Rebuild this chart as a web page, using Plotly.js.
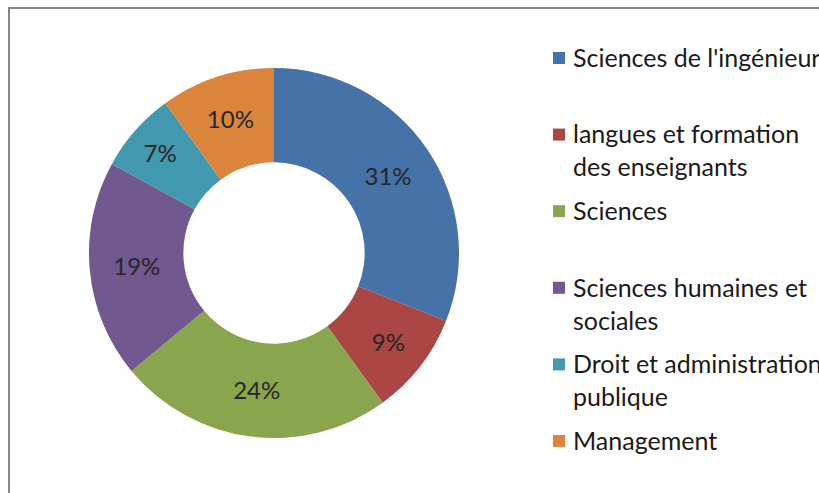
<!DOCTYPE html>
<html><head><meta charset="utf-8">
<script src="https://cdn.plot.ly/plotly-3.0.1.min.js"></script>
<style>html,body{margin:0;padding:0;background:#fff;overflow:hidden}#chart{width:819px;height:493px}</style>
</head><body><div id="chart"></div>
<script>
const categories = ["Sciences de l'ingénieur","langues et formation des enseignants","Sciences","Sciences humaines et sociales","Droit et administration publique","Management"];
const legendLabels = ["Sciences de l'ingénieur","langues et formation<br>des enseignants","Sciences","Sciences humaines et<br>sociales","Droit et administration<br>publique","Management"];
const shares = [31,9,24,19,7,10];
const colors = ["#4572A7","#AA4643","#89A54E","#71588F","#4198AF","#DB843D"];

const W = 819, H = 493;
const FONT = "Lato, 'Liberation Sans', sans-serif";
const FS = 25;
const cx = 274, cy = 253, R = 185;

const trace = {
  type: 'pie',
  labels: categories,
  values: shares,
  sort: false,
  direction: 'clockwise',
  rotation: 0,
  hole: 0.49,
  marker: {colors: colors, line: {width: 0}},
  textinfo: 'percent',
  textposition: 'inside',
  insidetextorientation: 'horizontal',
  textfont: {family: FONT, size: 24, color: '#262626'},
  domain: {x: [(cx - R) / W, (cx + R) / W], y: [1 - (cy + R) / H, 1 - (cy - R) / H]},
  showlegend: false,
  hoverinfo: 'label+percent'
};

// custom legend (first line aligned with swatch, uniform pitch)
const legX = 571, swX = 553, sw = 12, legY0 = 57, pitch = 76.6, lineH = FS * 1.3;
const annotations = [], shapes = [];
legendLabels.forEach((t, i) => {
  const n = t.split('<br>').length;
  const y = legY0 + pitch * i;
  annotations.push({
    xref: 'paper', yref: 'paper', x: legX / W, y: 1 - (y + (n - 1) * lineH / 2) / H,
    xanchor: 'left', yanchor: 'middle', align: 'left', showarrow: false,
    text: t, font: {family: FONT, size: FS, color: '#1a1a1a'}
  });
  shapes.push({
    type: 'rect', xref: 'paper', yref: 'paper',
    x0: swX / W, x1: (swX + sw) / W, y0: 1 - (y + 1 + sw / 2) / H, y1: 1 - (y + 1 - sw / 2) / H,
    fillcolor: colors[i], line: {width: 0}
  });
});
// chart frame
shapes.push({type: 'rect', xref: 'paper', yref: 'paper', x0: 9 / W, x1: 1.05, y0: -0.05, y1: 1 - 8 / H,
  line: {color: '#878787', width: 2}, fillcolor: 'rgba(0,0,0,0)'});

const layout = {
  width: W, height: H,
  margin: {l: 0, r: 0, t: 0, b: 0},
  paper_bgcolor: '#ffffff',
  showlegend: false,
  annotations: annotations,
  shapes: shapes,
  font: {family: FONT}
};
Plotly.newPlot('chart', [trace], layout, {displayModeBar: false, staticPlot: true});
</script>
</body></html>
